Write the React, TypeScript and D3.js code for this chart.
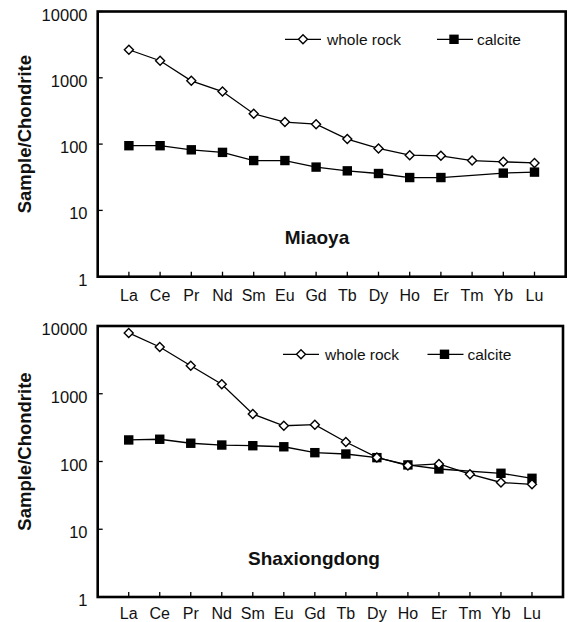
import React from "react";
import * as d3 from "d3";

const elements = ["La", "Ce", "Pr", "Nd", "Sm", "Eu", "Gd", "Tb", "Dy", "Ho", "Er", "Tm", "Yb", "Lu"];
const miaoyaWholeRock = [2650, 1810, 900, 620, 287, 215, 200, 119, 86, 68, 66.5, 56.5, 54, 52];
const miaoyaCalcite: (number | null)[] = [94.6, 94.6, 82, 75, 56.5, 56.5, 45, 39.5, 36, 31.3, 31.3, null, 36.5, 37.8];
const shaxWholeRock = [7900, 4900, 2590, 1380, 502, 337, 349, 194, 115, 87, 92, 65, 49, 46];
const shaxCalcite: (number | null)[] = [208, 213, 186, 175, 171, 165, 135, 129, 114, 89, 77.5, null, 67, 56.5];
const yTicks = [1, 10, 100, 1000, 10000];
const seriesNames = ["whole rock", "calcite"];

const FONT = "'Liberation Sans', Arial, Helvetica, sans-serif";

type PanelProps = {
  x0: number; x1: number; y0: number; y1: number;
  whole: number[]; calcite: (number | null)[];
  title: string; titleX: number; titleY: number;
  legendY: number; legWX: number; legCX: number; labelDy: number;
};

function Diamond({ cx, cy }: { cx: number; cy: number }) {
  const r = 4.5;
  return (
    <path
      d={`M${cx},${cy - r}L${cx + r},${cy}L${cx},${cy + r}L${cx - r},${cy}Z`}
      fill="#fff"
      stroke="#000"
      strokeWidth={1.4}
    />
  );
}

function Square({ cx, cy }: { cx: number; cy: number }) {
  const s = 9.4;
  return <rect x={cx - s / 2} y={cy - s / 2} width={s} height={s} fill="#000" />;
}

function Panel(p: PanelProps) {
  const x = d3.scalePoint<string>().domain(elements).range([p.x0, p.x1]).padding(1);
  const y = d3.scaleLog().domain([1, 10000]).range([p.y1, p.y0]);
  const toPts = (arr: (number | null)[]) =>
    arr
      .map((v, i) => ({ e: elements[i], v }))
      .filter((d) => d.v != null) as { e: string; v: number }[];
  const line = d3
    .line<{ e: string; v: number }>()
    .x((d) => x(d.e) as number)
    .y((d) => y(d.v));
  const wholePts = toPts(p.whole);
  const calcPts = toPts(p.calcite);
  const midY = (p.y0 + p.y1) / 2;
  return (
    <g>
      <rect x={p.x0} y={p.y0} width={p.x1 - p.x0} height={p.y1 - p.y0} fill="none" stroke="#000" strokeWidth={2.6} />
      {yTicks.map((t) => (
        <g key={t}>
          <line x1={p.x0} x2={p.x0 + 5} y1={y(t)} y2={y(t)} stroke="#000" strokeWidth={1.3} />
          <text x={87.5} y={y(t) + 3} textAnchor="end" dominantBaseline="central" fontSize={16.5} fontFamily={FONT} fill="#111">
            {t}
          </text>
        </g>
      ))}
      {elements.map((e) => (
        <g key={e}>
          <line x1={x(e)} x2={x(e)} y1={p.y1} y2={p.y1 - 5} stroke="#000" strokeWidth={1.3} />
          <text x={x(e)} y={p.y1 + p.labelDy} textAnchor="middle" fontSize={16} fontFamily={FONT} fill="#111">
            {e}
          </text>
        </g>
      ))}
      <text
        transform={`translate(24,${midY - 10}) rotate(-90)`}
        textAnchor="middle"
        dominantBaseline="central"
        fontSize={18.5}
        fontWeight="bold"
        fontFamily={FONT}
        fill="#111"
      >
        Sample/Chondrite
      </text>
      <path d={line(wholePts) || ""} fill="none" stroke="#000" strokeWidth={1.3} />
      <path d={line(calcPts) || ""} fill="none" stroke="#000" strokeWidth={1.3} />
      {calcPts.map((d) => (
        <Square key={"c" + d.e} cx={x(d.e) as number} cy={y(d.v)} />
      ))}
      {wholePts.map((d) => (
        <Diamond key={"w" + d.e} cx={x(d.e) as number} cy={y(d.v)} />
      ))}
      <text x={p.titleX} y={p.titleY} textAnchor="middle" dominantBaseline="central" fontSize={19} fontWeight="bold" fontFamily={FONT} fill="#111">
        {p.title}
      </text>
      {/* legend */}
      <line x1={p.legWX} x2={p.legWX + 36} y1={p.legendY} y2={p.legendY} stroke="#000" strokeWidth={1.3} />
      <Diamond cx={p.legWX + 18} cy={p.legendY} />
      <text x={p.legWX + 42} y={p.legendY} dominantBaseline="central" fontSize={15.5} fontFamily={FONT} fill="#111">
        {seriesNames[0]}
      </text>
      <line x1={p.legCX} x2={p.legCX + 36} y1={p.legendY} y2={p.legendY} stroke="#000" strokeWidth={1.3} />
      <Square cx={p.legCX + 17} cy={p.legendY} />
      <text x={p.legCX + 40} y={p.legendY} dominantBaseline="central" fontSize={15.5} fontFamily={FONT} fill="#111">
        {seriesNames[1]}
      </text>
    </g>
  );
}

export default function App() {
  return (
    <svg width={569} height={622} style={{ position: "absolute", left: 0, top: 0, background: "#fff" }}>
      <rect width={569} height={622} fill="#fff" />
      <Panel
        x0={97.7} x1={565.7} y0={11.5} y1={276.7}
        whole={miaoyaWholeRock} calcite={miaoyaCalcite}
        title="Miaoya" titleX={317} titleY={237}
        legendY={39.3} legWX={285} legCX={437} labelDy={24}
      />
      <Panel
        x0={97.7} x1={563} y0={326} y1={597}
        whole={shaxWholeRock} calcite={shaxCalcite}
        title="Shaxiongdong" titleX={314} titleY={558}
        legendY={354.3} legWX={283} legCX={427.5} labelDy={21.5}
      />
    </svg>
  );
}
